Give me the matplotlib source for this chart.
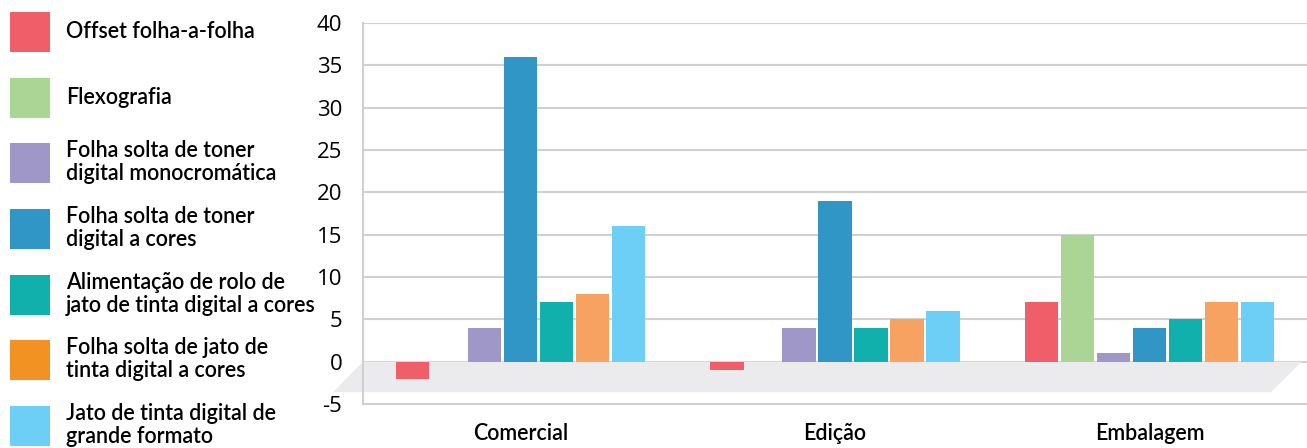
import matplotlib.pyplot as plt
from matplotlib.patches import Polygon, Rectangle
import numpy as np

categories = ["Comercial", "Edição", "Embalagem"]
series = [
    "Offset folha-a-folha",
    "Flexografia",
    "Folha solta de toner\ndigital monocromática",
    "Folha solta de toner\ndigital a cores",
    "Alimentação de rolo de\njato de tinta digital a cores",
    "Folha solta de jato de\ntinta digital a cores",
    "Jato de tinta digital de\ngrande formato",
]
values = [
    [-2, -1, 7],
    [0, 0, 15],
    [4, 4, 1],
    [36, 19, 4],
    [7, 4, 5],
    [8, 5, 7],
    [16, 6, 7],
]
yticks = [-5, 0, 5, 10, 15, 20, 25, 30, 35, 40]

bar_colors = ["#f05e6a", "#abd594", "#9e97c8", "#3096c6", "#12b0ac", "#f8a261", "#6ecff6"]
swatch_colors = ["#f05e6a", "#abd594", "#9e97c8", "#3096c6", "#12b0ac", "#f29222", "#6ecff6"]

W, H = 1307, 448
fig = plt.figure(figsize=(W / 100, H / 100), dpi=100)
ax = fig.add_axes([363 / W, (H - 404) / H, (W - 363) / W, (404 - 23) / H])

label_font = ["Lato", "DejaVu Sans"]

x = np.arange(len(categories))
pitch, width = 0.1144, 0.105
for i, (vals, col) in enumerate(zip(values, bar_colors)):
    ax.bar(x + (i - 3) * pitch, vals, width, color=col, zorder=3, linewidth=0)

# grey floor under the bars
floor = Polygon([(-0.5, 0), (2.484, 0), (2.385, -3.6), (-0.595, -3.6)],
                closed=True, facecolor="#ebebed", edgecolor="none",
                zorder=1, clip_on=False)
ax.add_patch(floor)

ax.set_xlim(-0.5, 2.5)
ax.set_ylim(-5, 40)
ax.set_yticks(yticks)
ax.set_yticklabels([str(t) for t in yticks], fontsize=16, family="Open Sans")
ax.set_xticks(x)
ax.set_xticklabels(categories, fontsize=15.5, family=label_font, weight="semibold")
ax.tick_params(length=0)
ax.tick_params(axis="y", pad=15)
ax.tick_params(axis="x", pad=14)
ax.set_axisbelow(True)
ax.grid(axis="y", color="#d0d0d0", linewidth=1.5)
for s in ["top", "right"]:
    ax.spines[s].set_visible(False)
for s in ["left", "bottom"]:
    ax.spines[s].set_color("#d0d0d0")
    ax.spines[s].set_linewidth(1.5)

# legend drawn by hand on the left
row_tops = [12, 78, 143, 209, 275, 340, 406]
for top, name, col in zip(row_tops, series, swatch_colors):
    fig.patches.append(Rectangle((10 / W, (H - top - 40) / H), 40 / W, 40 / H,
                                 transform=fig.transFigure, facecolor=col,
                                 edgecolor="none"))
    fig.text(66 / W, (H - top - 19) / H, name, fontsize=15.5, family=label_font,
             weight="semibold", va="center", ha="left", linespacing=1.1)

fig.savefig("out.png", dpi=100)
